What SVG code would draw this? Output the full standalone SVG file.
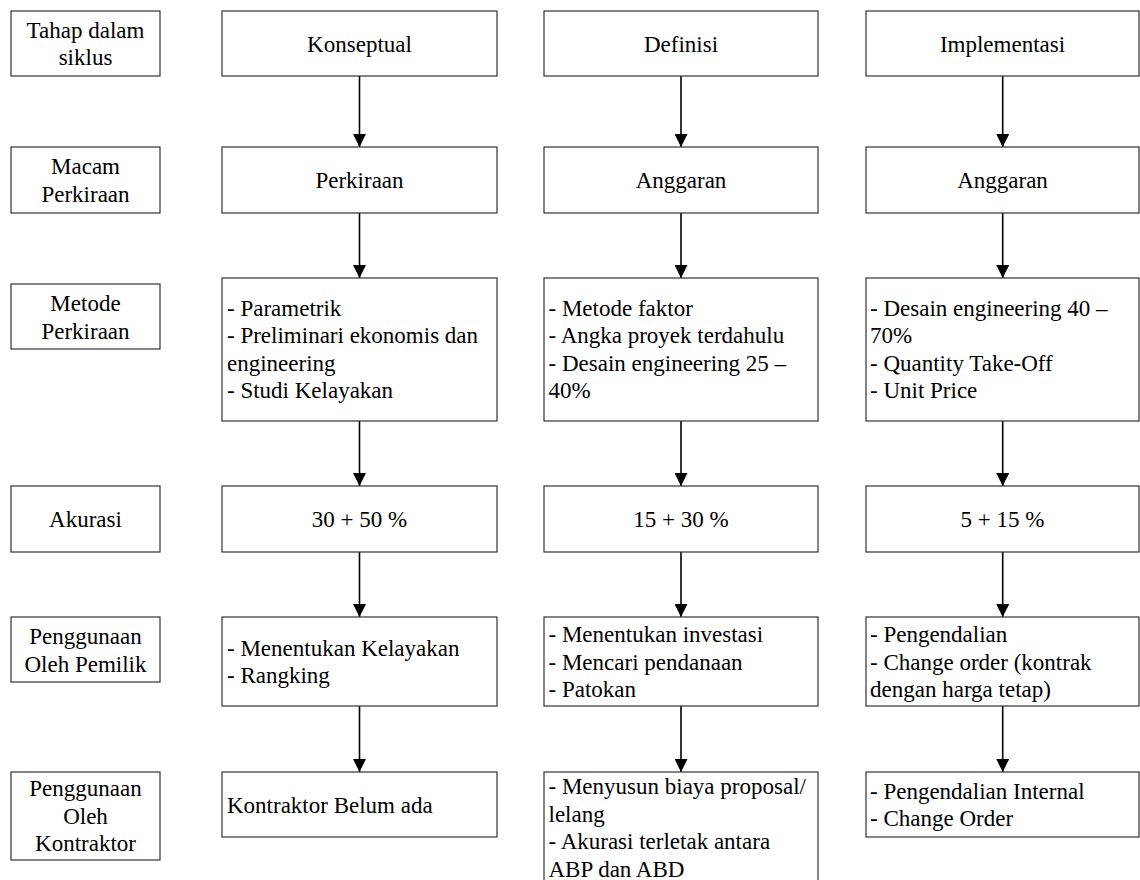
<svg xmlns="http://www.w3.org/2000/svg" width="1140" height="880" viewBox="0 0 1140 880">
<style>
.box{fill:#fff;stroke:#333;stroke-width:1.2}
text{font-family:'Liberation Serif','Tinos','DejaVu Serif',serif;font-size:23px;fill:#000}
.c{text-anchor:middle}
.conn{stroke:#000;stroke-width:1.6;fill:none}
</style>
<defs>
<marker id="ah" markerUnits="userSpaceOnUse" markerWidth="13" markerHeight="13" viewBox="0 0 13 13" refX="13" refY="6.5" orient="auto">
<path d="M0,0 L13,6.5 L0,13 z" fill="#000"/>
</marker>
</defs>
<rect width="1140" height="880" fill="#fff"/>

<g id="connectors">
<line class="conn" x1="359.5" y1="76" x2="359.5" y2="147" marker-end="url(#ah)"/>
<line class="conn" x1="359.5" y1="213" x2="359.5" y2="278" marker-end="url(#ah)"/>
<line class="conn" x1="359.5" y1="421" x2="359.5" y2="486" marker-end="url(#ah)"/>
<line class="conn" x1="359.5" y1="552" x2="359.5" y2="617" marker-end="url(#ah)"/>
<line class="conn" x1="359.5" y1="706" x2="359.5" y2="772" marker-end="url(#ah)"/>
<line class="conn" x1="681" y1="76" x2="681" y2="147" marker-end="url(#ah)"/>
<line class="conn" x1="681" y1="213" x2="681" y2="278" marker-end="url(#ah)"/>
<line class="conn" x1="681" y1="421" x2="681" y2="486" marker-end="url(#ah)"/>
<line class="conn" x1="681" y1="552" x2="681" y2="617" marker-end="url(#ah)"/>
<line class="conn" x1="681" y1="706" x2="681" y2="772" marker-end="url(#ah)"/>
<line class="conn" x1="1002.7" y1="76" x2="1002.7" y2="147" marker-end="url(#ah)"/>
<line class="conn" x1="1002.7" y1="213" x2="1002.7" y2="278" marker-end="url(#ah)"/>
<line class="conn" x1="1002.7" y1="421" x2="1002.7" y2="486" marker-end="url(#ah)"/>
<line class="conn" x1="1002.7" y1="552" x2="1002.7" y2="617" marker-end="url(#ah)"/>
<line class="conn" x1="1002.7" y1="706" x2="1002.7" y2="772" marker-end="url(#ah)"/>
</g>

<!-- Row labels -->
<g id="lbl-tahap">
<rect class="box" x="11" y="11" width="149" height="65"/>
<text class="c" x="85.5" y="37.5">Tahap dalam</text>
<text class="c" x="85.5" y="65">siklus</text>
</g>
<g id="lbl-macam">
<rect class="box" x="11" y="147" width="149" height="66"/>
<text class="c" x="85.5" y="174">Macam</text>
<text class="c" x="85.5" y="201.5">Perkiraan</text>
</g>
<g id="lbl-metode">
<rect class="box" x="11" y="284" width="149" height="65"/>
<text class="c" x="85.5" y="311">Metode</text>
<text class="c" x="85.5" y="338.5">Perkiraan</text>
</g>
<g id="lbl-akurasi">
<rect class="box" x="11" y="486" width="149" height="66"/>
<text class="c" x="85.5" y="527">Akurasi</text>
</g>
<g id="lbl-pemilik">
<rect class="box" x="11" y="617" width="149" height="65"/>
<text class="c" x="85.5" y="644">Penggunaan</text>
<text class="c" x="85.5" y="671.5">Oleh Pemilik</text>
</g>
<g id="lbl-kontraktor">
<rect class="box" x="11" y="772" width="149" height="88"/>
<text class="c" x="85.5" y="796">Penggunaan</text>
<text class="c" x="85.5" y="823.5">Oleh</text>
<text class="c" x="85.5" y="851">Kontraktor</text>
</g>

<!-- Column 1 -->
<g id="c1-tahap">
<rect class="box" x="222" y="11" width="275" height="65"/>
<text class="c" x="359.5" y="51.5">Konseptual</text>
</g>
<g id="c1-macam">
<rect class="box" x="222" y="147" width="275" height="66"/>
<text class="c" x="359.5" y="188">Perkiraan</text>
</g>
<g id="c1-metode">
<rect class="box" x="222" y="278" width="275" height="143"/>
<text x="227" y="315.5">- Parametrik</text>
<text x="227" y="343">- Preliminari ekonomis dan</text>
<text x="227" y="370.5">engineering</text>
<text x="227" y="398">- Studi Kelayakan</text>
</g>
<g id="c1-akurasi">
<rect class="box" x="222" y="486" width="275" height="66"/>
<text class="c" x="359.5" y="527">30 + 50 %</text>
</g>
<g id="c1-pemilik">
<rect class="box" x="222" y="617" width="275" height="89"/>
<text x="227" y="655.5">- Menentukan Kelayakan</text>
<text x="227" y="683">- Rangking</text>
</g>
<g id="c1-kontraktor">
<rect class="box" x="222" y="772" width="275" height="65"/>
<text x="227" y="812.5">Kontraktor Belum ada</text>
</g>

<!-- Column 2 -->
<g id="c2-tahap">
<rect class="box" x="544" y="11" width="274" height="65"/>
<text class="c" x="681" y="51.5">Definisi</text>
</g>
<g id="c2-macam">
<rect class="box" x="544" y="147" width="274" height="66"/>
<text class="c" x="681" y="188">Anggaran</text>
</g>
<g id="c2-metode">
<rect class="box" x="544" y="278" width="274" height="143"/>
<text x="548.5" y="315.5">- Metode faktor</text>
<text x="548.5" y="343">- Angka proyek terdahulu</text>
<text x="548.5" y="370.5">- Desain engineering 25 –</text>
<text x="548.5" y="398">40%</text>
</g>
<g id="c2-akurasi">
<rect class="box" x="544" y="486" width="274" height="66"/>
<text class="c" x="681" y="527">15 + 30 %</text>
</g>
<g id="c2-pemilik">
<rect class="box" x="544" y="617" width="274" height="89"/>
<text x="548.5" y="642">- Menentukan investasi</text>
<text x="548.5" y="669.5">- Mencari pendanaan</text>
<text x="548.5" y="697">- Patokan</text>
</g>
<g id="c2-kontraktor">
<rect class="box" x="544" y="772" width="274" height="112"/>
<text x="548.5" y="794">- Menyusun biaya proposal/</text>
<text x="548.5" y="821.5">lelang</text>
<text x="548.5" y="849">- Akurasi terletak antara</text>
<text x="548.5" y="876.5">ABP dan ABD</text>
</g>

<!-- Column 3 -->
<g id="c3-tahap">
<rect class="box" x="866" y="11" width="273" height="65"/>
<text class="c" x="1002.5" y="51.5">Implementasi</text>
</g>
<g id="c3-macam">
<rect class="box" x="866" y="147" width="273" height="66"/>
<text class="c" x="1002.5" y="188">Anggaran</text>
</g>
<g id="c3-metode">
<rect class="box" x="866" y="278" width="273" height="143"/>
<text x="870" y="315.5">- Desain engineering 40 –</text>
<text x="870" y="343">70%</text>
<text x="870" y="370.5">- Quantity Take-Off</text>
<text x="870" y="398">- Unit Price</text>
</g>
<g id="c3-akurasi">
<rect class="box" x="866" y="486" width="273" height="66"/>
<text class="c" x="1002.5" y="527">5 + 15 %</text>
</g>
<g id="c3-pemilik">
<rect class="box" x="866" y="617" width="273" height="89"/>
<text x="870" y="642">- Pengendalian</text>
<text x="870" y="669.5">- Change order (kontrak</text>
<text x="870" y="697">dengan harga tetap)</text>
</g>
<g id="c3-kontraktor">
<rect class="box" x="866" y="772" width="273" height="65"/>
<text x="870" y="798.5">- Pengendalian Internal</text>
<text x="870" y="826">- Change Order</text>
</g>
</svg>
